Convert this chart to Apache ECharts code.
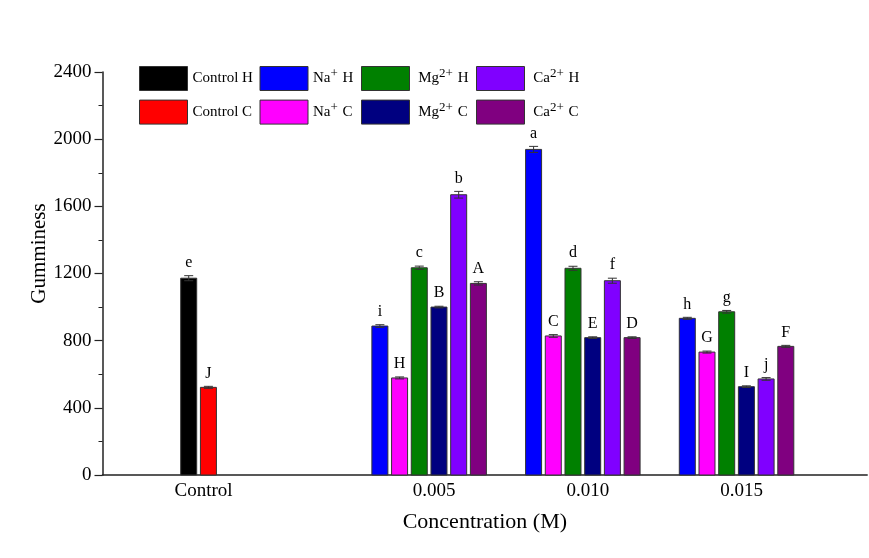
<!DOCTYPE html>
<html><head><meta charset="utf-8">
<script src="https://cdn.jsdelivr.net/npm/echarts@6/dist/echarts.min.js"></script>
<style>html,body{margin:0;padding:0;background:#fff}#c{width:869px;height:558px}</style>
</head><body><div id="c"></div>
<script>
// ---- data ----
const categories = ['Control', '0.005', '0.010', '0.015'];
const seriesNames = ['Control H', 'Control C', 'Na+ H', 'Na+ C', 'Mg2+ H', 'Mg2+ C', 'Ca2+ H', 'Ca2+ C'];

const controlH = [1172];  const controlHErr = [15]; const controlHLetters = ['e'];
const controlC = [522];   const controlCErr = [6];  const controlCLetters = ['J'];
const naH = [887, 1939, 933];   const naHErr = [8, 18, 6];   const naHLetters = ['i', 'a', 'h'];
const naC = [578, 828, 732];    const naCErr = [6, 8, 6];    const naCLetters = ['H', 'C', 'G'];
const mgH = [1234, 1231, 972];  const mgHErr = [10, 12, 8];  const mgHLetters = ['c', 'd', 'g'];
const mgC = [1000, 818, 526];   const mgCErr = [5, 5, 5];    const mgCLetters = ['B', 'E', 'I'];
const caH = [1669, 1157, 572];  const caHErr = [20, 15, 8];  const caHLetters = ['b', 'f', 'j'];
const caC = [1141, 818, 766];   const caCErr = [10, 5, 6];   const caCLetters = ['A', 'D', 'F'];

const yTicks = [0, 400, 800, 1200, 1600, 2000, 2400];

// ---- layout / style ----
const FONT = 'Liberation Serif';
const groupPos = [0, 3, 5, 7];       // x position of each category on the hidden value scale
const PITCH = 19.7, BW = 16, CAP = 9;
const colors = {
  'Control H': '#000000', 'Control C': '#ff0000',
  'Na+ H': '#0000ff', 'Na+ C': '#ff00ff',
  'Mg2+ H': '#008000', 'Mg2+ C': '#000080',
  'Ca2+ H': '#8000ff', 'Ca2+ C': '#800080'
};

function makeSeries(name, cats, vals, errs, letters, slot, n) {
  const data = cats.map((c, i) => [c, vals[i], errs[i]]);
  return {
    type: 'custom', name: name, data: data,
    itemStyle: { color: colors[name], borderColor: '#333', borderWidth: 1 },
    encode: { x: 0, y: 1 },
    renderItem: function (params, api) {
      const ci = api.value(0), v = api.value(1), e = api.value(2);
      const gx = groupPos[ci];
      const base = api.coord([gx, 0]);
      const top = api.coord([gx, v]);
      const eTop = api.coord([gx, v + e])[1];
      const eBot = api.coord([gx, v - e])[1];
      const cx = base[0] + (slot - (n - 1) / 2) * PITCH;
      const lineStyle = { stroke: '#333', lineWidth: 1 };
      return {
        type: 'group',
        children: [
          { type: 'rect', shape: { x: cx - BW / 2, y: top[1], width: BW, height: base[1] - top[1] },
            style: { fill: colors[name], stroke: '#333', lineWidth: 1 } },
          { type: 'line', shape: { x1: cx, y1: eTop, x2: cx, y2: eBot }, style: lineStyle },
          { type: 'line', shape: { x1: cx - CAP / 2, y1: eTop, x2: cx + CAP / 2, y2: eTop }, style: lineStyle },
          { type: 'line', shape: { x1: cx - CAP / 2, y1: eBot, x2: cx + CAP / 2, y2: eBot }, style: lineStyle },
          { type: 'text', style: { text: letters[params.dataIndex], x: cx, y: eTop - 5,
              align: 'center', verticalAlign: 'bottom', fill: '#000', font: '16px "' + FONT + '"' } }
        ]
      };
    }
  };
}

const series = [
  makeSeries('Control H', [0], controlH, controlHErr, controlHLetters, 0, 2),
  makeSeries('Control C', [0], controlC, controlCErr, controlCLetters, 1, 2),
  makeSeries('Na+ H', [1, 2, 3], naH, naHErr, naHLetters, 0, 6),
  makeSeries('Na+ C', [1, 2, 3], naC, naCErr, naCLetters, 1, 6),
  makeSeries('Mg2+ H', [1, 2, 3], mgH, mgHErr, mgHLetters, 2, 6),
  makeSeries('Mg2+ C', [1, 2, 3], mgC, mgCErr, mgCLetters, 3, 6),
  makeSeries('Ca2+ H', [1, 2, 3], caH, caHErr, caHLetters, 4, 6),
  makeSeries('Ca2+ C', [1, 2, 3], caC, caCErr, caCLetters, 5, 6)
];

function legendFmt(name) {
  const m = name.match(/^(Na|Mg|Ca)(\S+) ([HC])$/);
  if (!m) return '{n|' + name + '}';
  const lead = m[1] === 'Na' ? '' : ' ';
  return '{n|' + lead + m[1] + '}{s|' + m[2] + '}{n| ' + m[3] + '}';
}
const legendText = {
  fontFamily: FONT, fontSize: 15, color: '#000',
  rich: {
    n: { fontFamily: FONT, fontSize: 15, color: '#000' },
    s: { fontFamily: FONT, fontSize: 13, color: '#000', padding: [0, 1, 10, 0] }
  }
};
function mkLegend(names, left) {
  return {
    data: names, left: left, top: 66, orient: 'vertical', icon: 'rect',
    itemWidth: 48, itemHeight: 24, itemGap: 8.6, selectedMode: false,
    itemStyle: { borderColor: '#333', borderWidth: 1 },
    formatter: legendFmt, textStyle: legendText, padding: 0
  };
}

const axisLineStyle = { color: '#222', width: 1.5 };
const option = {
  animation: false,
  backgroundColor: '#fff',
  grid: { left: 102.5, right: 1.8, top: 72, bottom: 83, outerBoundsMode: 'none' },
  legend: [
    mkLegend([seriesNames[0], seriesNames[1]], 139),
    mkLegend([seriesNames[2], seriesNames[3]], 259.5),
    mkLegend([seriesNames[4], seriesNames[5]], 361),
    mkLegend([seriesNames[6], seriesNames[7]], 476)
  ],
  xAxis: {
    type: 'value', min: -1.25, max: 8.7, interval: 0.25,
    axisLine: { show: true, lineStyle: axisLineStyle },
    axisTick: { show: false }, splitLine: { show: false },
    axisLabel: {
      formatter: function (v) { const i = groupPos.indexOf(v); return i >= 0 ? categories[i] : ''; },
      fontFamily: FONT, fontSize: 19, color: '#000', margin: 7, padding: [0, 0, 0, 10],
      showMinLabel: true, showMaxLabel: false
    },
    name: 'Concentration (M)', nameLocation: 'middle', nameGap: 36, nameMoveOverlap: false,
    nameTextStyle: { fontFamily: FONT, fontSize: 22, color: '#000' }
  },
  yAxis: {
    type: 'value', min: yTicks[0], max: yTicks[yTicks.length - 1], interval: yTicks[1] - yTicks[0],
    axisLine: { show: true, onZero: false, lineStyle: axisLineStyle },
    axisTick: { show: true, length: 8, lineStyle: { color: '#222', width: 1.2 } },
    minorTick: { show: true, splitNumber: 2, length: 4, lineStyle: { color: '#222', width: 1 } },
    splitLine: { show: false },
    axisLabel: { fontFamily: FONT, fontSize: 19, color: '#000', margin: 11,
      formatter: function (v) { return String(v); } },
    name: 'Gumminess', nameLocation: 'middle', nameGap: 53, nameMoveOverlap: false,
    nameTextStyle: { fontFamily: FONT, fontSize: 21, color: '#000', padding: [0, 0, 0, 40] }
  },
  series: series
};
const chart = echarts.init(document.getElementById('c'), null, { renderer: 'canvas' });
chart.setOption(option);
</script></body></html>
